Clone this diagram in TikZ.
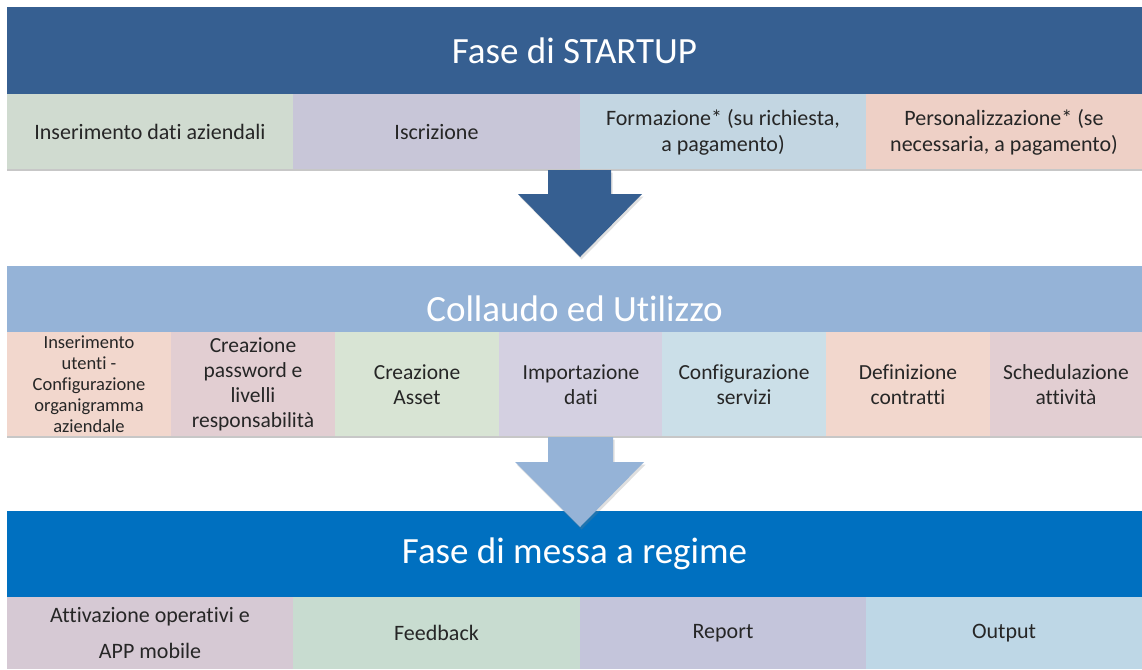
\documentclass[tikz,border=0pt]{standalone}
\usepackage{fontspec}
\setmainfont{Carlito}[Ligatures={NoCommon}]
\usetikzlibrary{shadows}
\definecolor{hdA}{RGB}{54,95,145}
\definecolor{hdB}{RGB}{149,179,215}
\definecolor{hdC}{RGB}{0,112,192}
\definecolor{txt}{RGB}{38,38,38}
\definecolor{cGreen}{RGB}{208,219,208}
\definecolor{cLav}{RGB}{200,198,216}
\definecolor{cBlue}{RGB}{195,214,226}
\definecolor{cPeach}{RGB}{238,208,198}
\definecolor{dPeach}{RGB}{242,215,205}
\definecolor{dMauve}{RGB}{226,206,210}
\definecolor{dGreen}{RGB}{216,228,212}
\definecolor{dLav}{RGB}{212,208,225}
\definecolor{dBlue}{RGB}{203,223,232}
\definecolor{eMauve}{RGB}{214,201,212}
\definecolor{eGreen}{RGB}{200,220,208}
\definecolor{eLav}{RGB}{196,197,219}
\definecolor{eBlue}{RGB}{190,215,230}
\tikzset{
  header/.style={anchor=north west, inner sep=0pt, outer sep=0pt, minimum width=1135pt,
    text=white, font=\fontsize{37}{44}\selectfont},
  cell/.style={anchor=north west, inner sep=0pt, outer sep=0pt, text=txt, align=center},
  rowA/.style={cell, minimum height=76pt, font=\fontsize{22}{26}\selectfont},
  rowB/.style={cell, minimum height=105pt, minimum width=164pt, font=\fontsize{21.5}{25}\selectfont},
  rowC/.style={cell, minimum height=72pt, font=\fontsize{22}{36}\selectfont},
  shade line/.style={draw=black!22, line width=1.5pt},
  blockarrow/.style={draw=none, drop shadow={shadow xshift=1.5pt, shadow yshift=-2.5pt, opacity=0.25}}
}
\begin{document}
\begin{tikzpicture}[x=1pt,y=-1pt]
\useasboundingbox[fill=white] (0,0) rectangle (1142,669);

% ---- Startup ----
\node[header, fill=hdA, minimum height=87pt] (h1) at (7,7) {Fase di STARTUP};
\node[rowA, fill=cGreen, minimum width=286pt] (a1) at (7,94) {Inserimento dati aziendali};
\node[rowA, fill=cLav, minimum width=287pt] (a2) at (293,94) {Iscrizione};
\node[rowA, fill=cBlue, minimum width=286pt] (a3) at (580,94) {Formazione* (su richiesta,\\ a pagamento)};
\node[rowA, fill=cPeach, minimum width=276pt] (a4) at (866,94) {Personalizzazione* (se\\ necessaria, a pagamento)};
\draw[shade line] (a1.south west) -- (a4.south east);

% ---- arrow 1 ----
\fill[hdA, blockarrow] (548,170) -- (611,170) -- (611,194) -- (642,194) -- (580,257)
  -- (518,194) -- (548,194) -- cycle;

% ---- Collaudo ----
\node[header, fill=hdB, minimum height=66pt, text height=44pt, text depth=0pt] (h2) at (7,266) {Collaudo ed Utilizzo};
\node[rowB, fill=dPeach, font=\fontsize{18.5}{21}\selectfont] (b1) at (7,332) {Inserimento\\ utenti -\\ Configurazione\\ organigramma\\ aziendale};
\node[rowB, fill=dMauve] (b2) at (171,332) {Creazione\\ password e\\ livelli\\ responsabilità};
\node[rowB, fill=dGreen] (b3) at (335,332) {Creazione\\ Asset};
\node[rowB, fill=dLav] (b4) at (499,332) {Importazione\\ dati};
\node[rowB, fill=dBlue] (b5) at (662,332) {Configurazione\\ servizi};
\node[rowB, fill=dPeach] (b6) at (826,332) {Definizione\\ contratti};
\node[rowB, fill=dMauve, minimum width=152pt] (b7) at (990,332) {Schedulazione\\ attività};
\draw[shade line] (b1.south west) -- (b7.south east);

% ---- Messa a regime ----
\node[header, fill=hdC, minimum height=86pt] (h3) at (7,511) {Fase di messa a regime};

% ---- arrow 2 ----
\fill[hdB, blockarrow] (548,437) -- (613,437) -- (613,462) -- (644,462) -- (580,527)
  -- (515,462) -- (548,462) -- cycle;

\node[rowC, fill=eMauve, minimum width=286pt] (c1) at (7,597) {Attivazione operativi e\\ APP mobile};
\node[rowC, fill=eGreen, minimum width=287pt] (c2) at (293,597) {Feedback};
\node[rowC, fill=eLav, minimum width=286pt] (c3) at (580,597) {Report};
\node[rowC, fill=eBlue, minimum width=276pt] (c4) at (866,597) {Output};
\end{tikzpicture}
\end{document}
